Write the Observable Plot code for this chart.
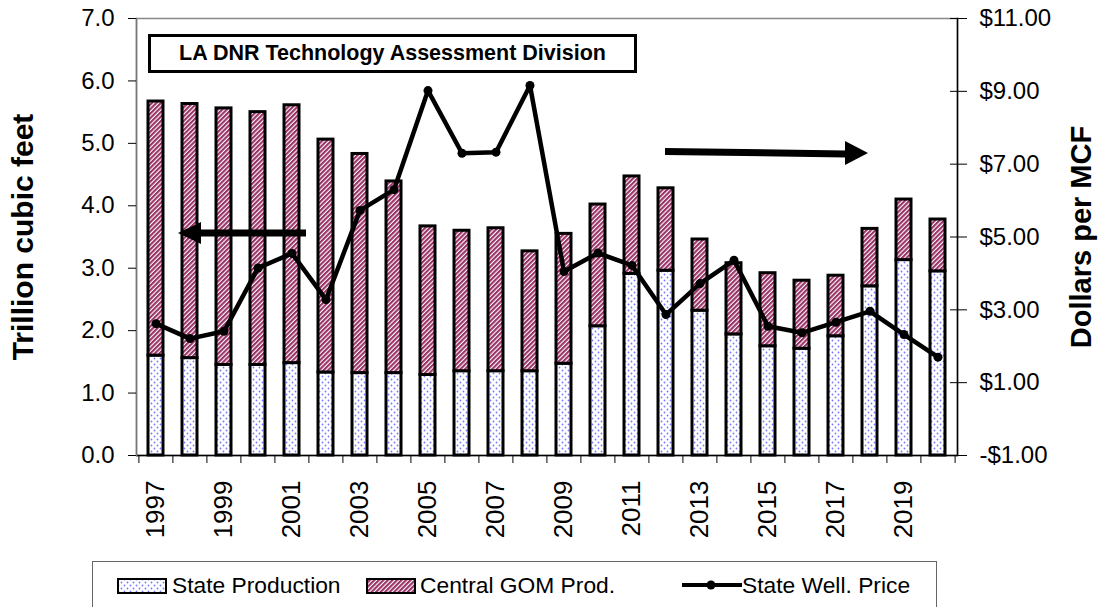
<!DOCTYPE html>
<html>
<head>
<meta charset="utf-8">
<script src="https://cdn.jsdelivr.net/npm/d3@7"></script>
<script src="https://cdn.jsdelivr.net/npm/@observablehq/plot@0.6"></script>
<style>
  body { margin: 0; background: #fff; font-family: "Liberation Sans", Arial, sans-serif; }
  #wrap { position: relative; width: 1104px; height: 607px; overflow: hidden; background: #fff; }
  #chart { position: absolute; left: 0; top: 0; }
  #titlebox { position: absolute; left: 148px; top: 34px; width: 489px; height: 39px; box-sizing: border-box;
    border: 3px solid #000; background: #fff; font-weight: bold; font-size: 21.5px;
    display: flex; align-items: center; justify-content: center; color: #000; }
  #legend { position: absolute; left: 92px; top: 561px; width: 845px; height: 60px; box-sizing: border-box;
    border: 1px solid #666; background: #fff; }
  .lg { position: absolute; font-size: 22.8px; color: #000; line-height: 1; white-space: nowrap; }
  .sw { position: absolute; }
</style>
</head>
<body>
<svg width="0" height="0" style="position:absolute">
  <defs>
    <pattern id="dots" patternUnits="userSpaceOnUse" width="6" height="6">
      <rect width="6" height="6" fill="#fff"/>
      <circle cx="1.5" cy="1.5" r="0.9" fill="#7878ff"/>
      <circle cx="4.5" cy="4.5" r="0.9" fill="#7878ff"/>
    </pattern>
    <pattern id="stripes" patternUnits="userSpaceOnUse" width="3.2" height="3.2" patternTransform="rotate(45)">
      <rect width="3.2" height="3.2" fill="#fff"/>
      <rect width="2.1" height="3.2" fill="#993366"/>
    </pattern>
  </defs>
</svg>
<div id="wrap">
  <div id="chart"></div>
  <div id="titlebox">LA DNR Technology Assessment Division</div>
  <div id="legend">
    <svg class="sw" style="left:24px;top:16px" width="50" height="16"><rect x="1" y="1" width="48" height="14" fill="url(#dots)" stroke="#000" stroke-width="2"/></svg>
    <div class="lg" style="left:79px;top:12px">State Production</div>
    <svg class="sw" style="left:273px;top:16px" width="50" height="16"><rect x="1" y="1" width="48" height="14" fill="url(#stripes)" stroke="#000" stroke-width="2"/></svg>
    <div class="lg" style="left:327px;top:12px">Central GOM Prod.</div>
    <svg class="sw" style="left:588px;top:13px" width="62" height="20"><line x1="1" y1="10" x2="61" y2="10" stroke="#000" stroke-width="4"/><circle cx="30" cy="10" r="4.5" fill="#000"/></svg>
    <div class="lg" style="left:649px;top:12px">State Well. Price</div>
  </div>
</div>
<script>
// ---- data ----
const years = [1997,1998,1999,2000,2001,2002,2003,2004,2005,2006,2007,2008,2009,2010,2011,2012,2013,2014,2015,2016,2017,2018,2019,2020];
// State production (trillion cubic feet)
const stateProd = [1.60,1.56,1.45,1.45,1.48,1.33,1.32,1.32,1.29,1.35,1.35,1.35,1.47,2.07,2.91,2.96,2.32,1.94,1.75,1.71,1.91,2.71,3.13,2.95];
// Central GOM production (trillion cubic feet, stacked on state)
const gomProd = [4.07,4.07,4.11,4.05,4.13,3.73,3.51,3.07,2.38,2.25,2.29,1.92,2.08,1.95,1.56,1.32,1.14,1.14,1.17,1.09,0.97,0.92,0.97,0.83];
// State wellhead price ($ per MCF)
const price = [2.62,2.21,2.41,4.15,4.55,3.28,5.73,6.30,9.02,7.30,7.33,9.16,4.05,4.56,4.22,2.87,3.72,4.36,2.55,2.37,2.66,2.96,2.32,1.70];
const leftTicks = [0,1,2,3,4,5,6,7];
const priceTicks = [-1,1,3,5,7,9,11];
const labelYears = [1997,1999,2001,2003,2005,2007,2009,2011,2013,2015,2017,2019];

const W = 1104, H = 560, ML = 136, MR = 147, MT = 18, MB = 105;
const step = (W - ML - MR) / years.length;
// map the price axis (-1..11) onto the volume axis (0..7)
const toLeft = p => (p + 1) * 7 / 12;
const fromLeft = v => v * 12 / 7 - 1;
const fmtPrice = v => { const p = Math.round(fromLeft(v) * 100) / 100; return (p < 0 ? "-$" : "$") + Math.abs(p).toFixed(2); };

const rows = years.map((year, i) => ({
  year, state: stateProd[i], top: stateProd[i] + gomProd[i], py: toLeft(price[i])
}));

const chart = Plot.plot({
  width: W, height: H,
  marginLeft: ML, marginRight: MR, marginTop: MT, marginBottom: MB,
  style: { fontFamily: "Liberation Sans, Arial, sans-serif", fontSize: "24px", color: "#000", background: "#fff" },
  x: { type: "band", domain: years, paddingInner: 0.55, paddingOuter: 0.275, axis: null, label: null },
  y: { domain: [0, 7], axis: null, label: null },
  marks: [
    Plot.frame({ stroke: "#888", strokeWidth: 1.5 }),
    Plot.barY(rows, { x: "year", y1: 0, y2: "state", fill: "url(#dots)", stroke: "#000", strokeWidth: 3 }),
    Plot.barY(rows, { x: "year", y1: "state", y2: "top", fill: "url(#stripes)", stroke: "#000", strokeWidth: 3 }),
    Plot.line(rows, { x: "year", y: "py", stroke: "#000", strokeWidth: 4.5, strokeLinejoin: "round" }),
    Plot.dot(rows, { x: "year", y: "py", fill: "#000", r: 4.5 }),
    Plot.ruleY([0], { stroke: "#000", strokeWidth: 1.5 }),
    Plot.frame({ anchor: "left", stroke: "#777", strokeWidth: 1.5 }),
    Plot.frame({ anchor: "right", stroke: "#000", strokeWidth: 1.5 }),
    Plot.axisY({ anchor: "left", ticks: leftTicks, tickFormat: d => d.toFixed(1), tickSize: 8, tickPadding: 14 }),
    Plot.axisY({ anchor: "right", ticks: priceTicks.map(toLeft), tickFormat: fmtPrice, tickSize: 9, tickPadding: 13 }),
    Plot.axisY({ anchor: "right", ticks: priceTicks.map(toLeft), tickSize: 8, dx: -8, fill: "none" }),
    Plot.axisX({ ticks: years, tickSize: 8, dx: -step / 2, fill: "none" }),
    Plot.axisX({ ticks: [years[years.length - 1]], tickSize: 8, dx: step / 2, fill: "none" }),
    Plot.axisX({ ticks: labelYears, tickSize: 0, tickRotate: -90, tickPadding: 25, fontSize: 26, tickFormat: d => String(d) }),
    Plot.text(["Trillion cubic feet"], { frameAnchor: "left", dx: -113, rotate: -90, textAnchor: "middle", lineAnchor: "middle", fontSize: 30, fontWeight: "bold" }),
    Plot.text(["Dollars per MCF"], { frameAnchor: "right", dx: 124, rotate: -90, textAnchor: "middle", lineAnchor: "middle", fontSize: 29, fontWeight: "bold" })
  ]
});
document.getElementById("chart").appendChild(chart);

// annotation arrows (direction pointers to each axis)
const svg = d3.select(chart);
const g = svg.append("g").attr("fill", "#000");
g.append("rect").attr("x", 199).attr("y", 229.5).attr("width", 107).attr("height", 7);
g.append("path").attr("d", "M178,233 L201,222 L201,244 Z");
g.append("path").attr("d", "M665,148 L846,150.5 L846,157.5 L665,155 Z");
g.append("path").attr("d", "M868,153 L845,141 L845,165 Z");
</script>
</body>
</html>
